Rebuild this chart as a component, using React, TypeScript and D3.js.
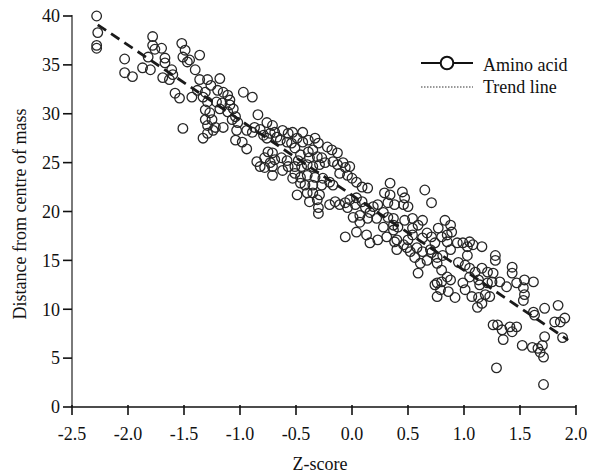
import React from "react";
import * as d3 from "d3";

// Tick labels
const xTicks = [-2.5, -2.0, -1.5, -1.0, -0.5, 0.0, 0.5, 1.0, 1.5, 2.0];
const yTicks = [0, 5, 10, 15, 20, 25, 30, 35, 40];

// Trend line end points (z-score, distance)
const trendZ = [-2.27, 1.93];
const trendD = [39.1, 6.85];

// Amino acids: [z-score, distance from centre of mass]
const groupA: [number, number][] = [
  [-2.28, 40.0], [-2.27, 38.3], [-2.28, 37.0], [-2.28, 36.7], [-2.03, 35.6], [-2.03, 34.2], [-1.96, 33.8],
  [-1.87, 34.7], [-1.8, 34.5], [-1.82, 35.8], [-1.78, 37.9], [-1.78, 37.0], [-1.76, 36.6], [-1.7, 36.7],
  [-1.67, 35.7], [-1.67, 35.2], [-1.69, 33.7], [-1.63, 33.5], [-1.61, 34.5], [-1.6, 34.0], [-1.58, 32.1],
  [-1.54, 31.6], [-1.52, 37.2], [-1.49, 36.5], [-1.51, 35.8], [-1.47, 35.3], [-1.45, 35.5], [-1.4, 34.5],
  [-1.43, 31.7], [-1.51, 28.5], [-1.38, 32.4], [-1.36, 36.0],
];
const groupB: [number, number][] = [
  [-1.36, 33.5], [-1.29, 33.5], [-1.26, 32.9], [-1.18, 33.6], [-1.31, 32.2], [-1.33, 31.7], [-1.29, 31.2],
  [-1.2, 32.4], [-1.15, 32.2], [-1.11, 31.9], [-1.09, 31.4], [-1.21, 31.2], [-1.16, 31.1], [-1.18, 30.5],
  [-1.09, 30.9], [-1.06, 30.5], [-1.11, 30.2], [-1.04, 29.7], [-0.97, 32.2], [-0.89, 31.7], [-1.31, 30.4],
  [-1.27, 30.1], [-1.31, 29.4], [-1.25, 29.4], [-1.29, 28.8], [-1.22, 28.6], [-1.15, 28.6], [-1.33, 27.5],
  [-1.29, 28.0], [-1.24, 28.3], [-1.07, 29.4], [-1.02, 29.1], [-1.03, 28.3], [-1.04, 27.3], [-0.98, 27.1],
  [-0.94, 28.3], [-0.89, 28.1], [-0.87, 28.6], [-0.84, 29.9], [-0.94, 26.4], [-0.76, 29.1], [-0.71, 28.8],
  [-0.69, 28.1], [-0.73, 28.0], [-0.76, 27.5], [-0.67, 27.6], [-0.82, 28.4], [-0.79, 27.8], [-0.62, 28.3],
  [-0.57, 28.0], [-0.53, 28.1], [-0.49, 27.5], [-0.64, 27.3], [-0.58, 27.1], [-0.54, 27.0], [-0.51, 26.5],
  [-0.85, 25.1], [-0.78, 25.5], [-0.73, 25.0], [-0.69, 25.3], [-0.71, 26.0], [-0.75, 26.1], [-0.82, 24.6],
  [-0.78, 24.5], [-0.71, 24.6], [-0.71, 23.7], [-0.63, 25.5], [-0.58, 25.2], [-0.57, 24.6], [-0.62, 24.2],
  [-0.51, 24.6], [-0.48, 25.2], [-0.51, 23.9], [-0.53, 23.4], [-0.46, 22.9], [-0.49, 21.7],
];
const groupC: [number, number][] = [
  [-0.44, 28.1], [-0.44, 27.1], [-0.39, 27.3], [-0.33, 27.5], [-0.3, 27.0], [-0.22, 26.6], [-0.18, 26.3],
  [-0.13, 26.0], [-0.46, 25.8], [-0.39, 26.1], [-0.35, 26.3], [-0.38, 25.5], [-0.31, 25.6], [-0.27, 25.5],
  [-0.24, 25.0], [-0.45, 24.6], [-0.4, 24.8], [-0.35, 24.6], [-0.29, 24.8], [-0.17, 25.1], [-0.13, 24.8],
  [-0.08, 25.0], [-0.06, 24.5], [-0.02, 24.6], [-0.11, 23.9], [-0.04, 23.7], [0.0, 23.4], [0.04, 23.0],
  [0.09, 22.5], [0.14, 22.4], [-0.46, 23.5], [-0.4, 23.7], [-0.33, 23.5], [-0.26, 23.4], [-0.2, 23.0],
  [-0.42, 22.7], [-0.35, 22.7], [-0.27, 22.7], [-0.17, 22.7], [-0.4, 21.9], [-0.35, 21.9], [-0.29, 21.7],
  [-0.38, 21.0], [-0.31, 21.2], [-0.3, 20.4], [-0.3, 19.8], [-0.2, 20.7], [-0.15, 21.0], [-0.11, 20.7],
  [-0.06, 20.9], [-0.02, 21.2], [-0.04, 20.4], [0.03, 20.7], [0.04, 21.4], [0.09, 21.0], [0.12, 20.4],
  [0.16, 19.9], [0.07, 19.6], [0.19, 20.5], [0.23, 20.7], [0.14, 19.3], [0.22, 19.3], [0.01, 19.4],
  [0.07, 18.9], [0.13, 17.6], [0.16, 16.8], [0.23, 17.1], [-0.06, 17.4], [0.04, 17.9],
];
const groupD: [number, number][] = [
  [0.34, 22.9], [0.29, 21.9], [0.34, 21.7], [0.32, 20.9], [0.45, 22.0], [0.47, 21.4], [0.5, 20.5],
  [0.46, 20.7], [0.65, 22.2], [0.71, 20.9], [0.28, 19.9], [0.32, 19.4], [0.37, 19.3], [0.47, 19.1],
  [0.54, 19.3], [0.63, 19.1], [0.59, 18.6], [0.28, 18.4], [0.37, 18.1], [0.41, 18.4], [0.54, 18.3],
  [0.54, 17.6], [0.5, 17.1], [0.49, 16.3], [0.4, 16.1], [0.4, 17.1], [0.31, 17.4], [0.63, 17.3],
  [0.67, 17.8], [0.71, 17.4], [0.77, 18.3], [0.83, 19.1], [0.88, 18.6], [0.8, 17.4], [0.85, 17.6],
  [0.89, 17.9], [0.94, 16.8], [0.85, 16.9], [0.74, 16.8], [0.7, 16.1], [0.63, 15.9], [0.56, 15.3],
  [0.61, 14.7], [0.67, 15.0], [0.76, 15.3], [0.81, 15.5], [0.88, 16.1], [0.95, 14.8], [1.03, 16.4],
  [1.03, 15.5], [0.59, 13.7], [0.76, 12.7], [0.8, 12.8], [0.88, 13.0], [0.99, 12.7], [1.05, 13.3],
  [0.38, 20.7], [0.37, 18.6], [0.38, 16.9], [0.46, 16.6], [0.52, 15.9], [0.58, 16.3], [0.71, 15.8],
  [0.76, 14.7], [0.8, 14.0], [0.85, 13.3], [0.74, 12.5], [0.79, 12.0], [0.86, 11.8], [1.01, 12.0],
  [0.76, 11.3], [0.92, 11.2],
];
const groupE: [number, number][] = [
  [0.99, 16.8], [1.05, 16.9], [1.08, 16.6], [1.16, 16.4], [1.28, 15.5], [1.28, 15.0], [1.01, 14.5],
  [1.05, 14.2], [1.1, 13.8], [1.16, 14.2], [1.21, 13.8], [1.26, 13.7], [1.43, 14.3], [1.43, 13.7],
  [1.47, 12.7], [1.54, 13.0], [1.62, 12.8], [1.13, 13.0], [1.14, 12.5], [1.21, 12.7], [1.25, 12.8],
  [1.32, 12.8], [1.38, 12.3], [1.07, 11.3], [1.13, 11.2], [1.19, 11.5], [1.23, 11.3], [1.12, 10.2],
  [1.16, 10.6], [1.26, 8.4], [1.3, 8.4], [1.34, 7.9], [1.41, 8.2], [1.47, 8.2], [1.43, 7.7],
  [1.35, 6.9], [1.52, 6.3], [1.29, 4.0],
];
const groupF: [number, number][] = [
  [1.53, 12.2], [1.54, 11.5], [1.53, 10.9], [1.62, 9.7], [1.63, 9.4], [1.72, 10.1], [1.84, 10.4],
  [1.81, 8.7], [1.86, 8.7], [1.9, 9.1], [1.88, 7.1], [1.61, 6.1], [1.66, 6.0], [1.7, 6.3],
  [1.72, 7.2], [1.68, 5.6], [1.71, 5.1], [1.71, 2.3],
];

const aminoAcids = [...groupA, ...groupB, ...groupC, ...groupD, ...groupE, ...groupF];

const W = 589;
const H = 473;
const FONT = '"Liberation Serif", "Times New Roman", serif';

export default function App() {
  const x = d3.scaleLinear().domain([-2.5, 2.0]).range([72, 576]);
  const y = d3.scaleLinear().domain([0, 40]).range([407, 16]);
  const trend = d3
    .line<number>()
    .x((_, i) => x(trendZ[i]))
    .y((_, i) => y(trendD[i]));
  const fmt = (v: number) => v.toFixed(1);
  const x0 = x(-2.5);
  const y0 = y(0);

  return (
    <svg width={W} height={H} style={{ position: "absolute", left: 0, top: 0, background: "#fff" }} fontFamily={FONT}>
      <rect x={0} y={0} width={W} height={H} fill="#fff" />
      {/* points */}
      <g fill="none" stroke="#262626" strokeWidth={1.3}>
        {aminoAcids.map((p, i) => (
          <circle key={i} cx={x(p[0])} cy={y(p[1])} r={4.8} />
        ))}
      </g>
      {/* trend line */}
      <path d={trend(trendZ) || ""} fill="none" stroke="#1a1a1a" strokeWidth={2.8} strokeDasharray="10,6" />
      {/* y axis */}
      <line x1={x0} x2={x0} y1={y0} y2={y(40) - 1} stroke="#7a7a7a" strokeWidth={2} />
      {yTicks.map((t) => (
        <g key={"y" + t}>
          <line x1={x0 - 9} x2={x0} y1={y(t)} y2={y(t)} stroke="#111" strokeWidth={1.6} />
          <text x={x0 - 12} y={y(t)} dy="0.35em" textAnchor="end" fontSize={18} fill="#111">
            {t}
          </text>
        </g>
      ))}
      {/* x axis */}
      <line x1={x0} x2={x(2.0)} y1={y0} y2={y0} stroke="#111" strokeWidth={1.5} />
      {xTicks.map((t) => (
        <g key={"x" + t}>
          <line x1={x(t)} x2={x(t)} y1={y0 - 2} y2={y0 + 8} stroke="#111" strokeWidth={1.6} />
          <text x={x(t)} y={440} textAnchor="middle" fontSize={18} fill="#111">
            {fmt(t)}
          </text>
        </g>
      ))}
      {/* axis titles */}
      <text x={320} y={470} textAnchor="middle" fontSize={18} fill="#111">
        Z-score
      </text>
      <text transform="translate(26,214) rotate(-90)" textAnchor="middle" fontSize={18} fill="#111">
        Distance from centre of mass
      </text>
      {/* legend */}
      <line x1={421} x2={473} y1={63} y2={63} stroke="#111" strokeWidth={2} />
      <circle cx={447} cy={63} r={6.3} fill="#fff" stroke="#111" strokeWidth={2} />
      <text x={483} y={71} fontSize={18} fill="#111">
        Amino acid
      </text>
      <line x1={421} x2={473} y1={87} y2={87} stroke="#333" strokeWidth={1} strokeDasharray="1.5,1.5" />
      <text x={483} y={93} fontSize={18} fill="#111">
        Trend line
      </text>
    </svg>
  );
}
